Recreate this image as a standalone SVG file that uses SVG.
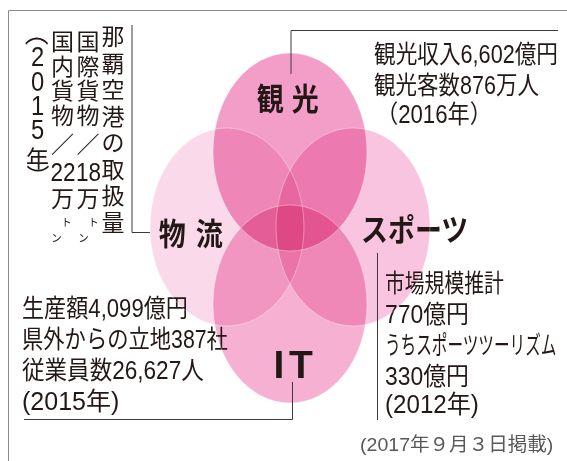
<svg xmlns="http://www.w3.org/2000/svg" width="567" height="461" viewBox="0 0 567 461">
<style>
.t{font-family:"Liberation Sans","Noto Sans CJK JP","Noto Sans CJK SC",sans-serif;fill:#231815}
.b{font-weight:700;font-size:31px}
.h{font-size:25px}
.v{font-size:23px;text-anchor:middle}
.d{font-size:25px;text-anchor:middle}
.d4{font-size:28px;text-anchor:middle}
.k{font-size:10.5px;text-anchor:middle}
.lat{font-family:"Liberation Sans",Arial,sans-serif;font-weight:700;font-size:39px;fill:#231815}
.ft{font-family:"Liberation Sans","Noto Sans CJK JP",sans-serif;font-size:19px;fill:#595757}
.c{fill:none;stroke:#3e3a39;stroke-width:1}
.f{fill:none;stroke:#8c8c8c;stroke-width:1}
.e{mix-blend-mode:multiply}
.s{fill:none;stroke:#fff;stroke-opacity:.35;stroke-width:1}
</style>
<rect width="567" height="461" fill="#fff"/>
<g id="frame"><path class="f" d="M8.5 461V10.5H567"/></g>

<g id="node-butsuryu">
<ellipse class="e" cx="227" cy="227" rx="77" ry="99" fill="#fadaea"/>
<text class="t b" transform="translate(160 244.5) scale(0.87 1)" x="-1.5 41" y="0 0">物流</text>
<text class="t v" x="113 113 113 113 113 113 113 113" y="45 71.5 98 124.5 151 177.5 204 230.5">那覇空港の取扱量</text>
<text class="t v" x="88 88 88 88 88" y="50 74.5 99 123.5 153">国際貨物／</text>
<text class="t d" transform="translate(88.5 180.7) scale(0.9 1)">18</text>
<text class="t v" x="88" y="207">万</text>
<text class="t k" x="93.5 83.5" y="226 241.5">トン</text>
<text class="t v" x="62.5 62.5 62.5 62.5 62.5" y="50 74.5 99 123.5 153">国内貨物／</text>
<text class="t d" transform="translate(63 180.7) scale(0.9 1)">22</text>
<text class="t v" x="62.5" y="207">万</text>
<text class="t k" x="66.5 56.5" y="226 241.5">トン</text>
<text class="t d4" transform="translate(37.5 0) scale(0.85 1)" x="3.2 0 0 0 0" y="18 66.5 91 115.5 139" rotate="90 0 0 0 0">（2015</text>
<text class="t v" x="37.5 40" y="166.5 164.5" rotate="0 90">年）</text>
</g>

<g id="node-kanko">
<ellipse class="e" cx="290" cy="152" rx="77" ry="99" fill="#f39ec8"/>
<text class="t b" transform="translate(258 109.5) scale(0.87 1)" x="-1.5 38.7" y="0 0">観光</text>
<text class="t h" transform="translate(374 63) scale(0.866 1)">観光収入6,602億円</text>
<text class="t h" transform="translate(374 94) scale(0.861 1)">観光客数876万人</text>
<text class="t h" transform="translate(376 123) scale(0.888 1)">（2016年）</text>
</g>

<g id="node-sports">
<ellipse class="e" cx="353" cy="227" rx="77" ry="99" fill="#f8c4df"/>
<text class="t b" transform="translate(361 241) scale(0.87 1)">スポーツ</text>
<text class="t h" transform="translate(385 292) scale(0.793 1)">市場規模推計</text>
<text class="t h" transform="translate(385 322.5) scale(0.916 1)">770億円</text>
<text class="t h" transform="translate(385 353.5) scale(0.625 1)">うちスポーツツーリズム</text>
<text class="t h" transform="translate(385 384.5) scale(0.916 1)">330億円</text>
<text class="t h" transform="translate(385 412.5) scale(0.966 1)">(2012年)</text>
</g>

<g id="node-it">
<ellipse class="e" cx="290" cy="304" rx="77" ry="99" fill="#f6b0d2"/>
<text class="lat" x="273.5 289" y="378 378">IT</text>
<text class="t h" transform="translate(22 317) scale(0.885 1)">生産額4,099億円</text>
<text class="t h" transform="translate(22 348) scale(0.852 1)">県外からの立地387社</text>
<text class="t h" transform="translate(22 379) scale(0.903 1)">従業員数26,627人</text>
<text class="t h" transform="translate(22 409.5) scale(1 1)">(2015年)</text>
</g>

<g id="seams">
<ellipse class="s" cx="227" cy="227" rx="77" ry="99"/>
<ellipse class="s" cx="290" cy="152" rx="77" ry="99"/>
<ellipse class="s" cx="353" cy="227" rx="77" ry="99"/>
<ellipse class="s" cx="290" cy="304" rx="77" ry="99"/>
</g>

<g id="connectors">
<path class="c" d="M291 74V30.5H558"/>
<path class="c" d="M132 25V232.5H150"/>
<path class="c" d="M377.5 253V420"/>
<path class="c" d="M292.5 382V419.5H24"/>
</g>

<text class="ft" transform="translate(360 451) scale(1.03 1)">(2017年９月３日掲載)</text>
</svg>
